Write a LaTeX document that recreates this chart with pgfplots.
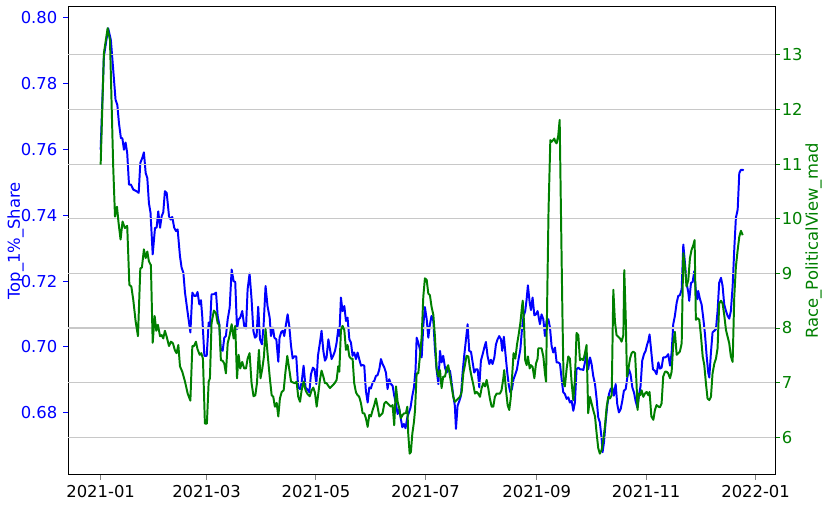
\documentclass[border=0pt]{standalone}
\usepackage{fontspec}
\setmainfont{DejaVu Sans}
\usepackage{pgfplots}
\pgfplotsset{compat=1.18}
\usepackage{pgfplotstable}
\definecolor{mplblue}{RGB}{0,0,255}
\definecolor{mplgreen}{RGB}{0,128,0}
\definecolor{gridgray}{RGB}{200,200,200}

\pgfplotstableread{
d v
0.0 0.7599
1.8 0.7882
4.2 0.7968
5.7 0.7932
7.0 0.7842
8.3 0.7751
9.3 0.7735
10.2 0.7680
11.3 0.7634
12.1 0.7634
13.0 0.7599
13.9 0.7621
14.8 0.7589
15.8 0.7493
16.9 0.7493
18.2 0.7478
20.0 0.7473
21.2 0.7468
22.1 0.7559
23.2 0.7574
24.1 0.7591
25.1 0.7528
26.0 0.7513
26.9 0.7437
27.8 0.7407
29.0 0.7281
30.3 0.7362
31.2 0.7362
32.1 0.7412
33.1 0.7362
34.0 0.7397
34.9 0.7409
35.8 0.7473
36.8 0.7468
38.1 0.7397
39.0 0.7387
39.9 0.7395
41.0 0.7362
42.0 0.7352
42.9 0.7357
44.2 0.7276
45.1 0.7241
46.1 0.7225
47.0 0.7165
48.5 0.7104
50.0 0.7044
51.1 0.7165
52.2 0.7155
53.1 0.7155
54.0 0.7167
55.0 0.7129
55.9 0.7142
56.6 0.7094
57.8 0.6973
59.1 0.6973
60.2 0.7074
60.9 0.7059
61.8 0.7160
63.1 0.7160
64.3 0.7165
65.2 0.7094
66.1 0.7069
67.0 0.6991
68.0 0.6988
68.9 0.7028
69.8 0.7033
70.8 0.7084
71.9 0.7119
73.0 0.7235
74.1 0.7200
75.0 0.7197
76.0 0.7054
76.9 0.7084
77.8 0.7089
78.9 0.7109
80.0 0.7064
81.0 0.7056
81.9 0.7175
83.0 0.7223
84.1 0.7145
85.1 0.7049
86.0 0.7028
86.9 0.7033
87.8 0.7122
88.8 0.7023
89.9 0.7008
90.8 0.7064
91.9 0.7185
93.0 0.7124
94.2 0.7089
94.9 0.7033
96.0 0.7059
96.8 0.7028
97.9 0.7023
99.0 0.6955
99.7 0.7028
100.7 0.7046
101.6 0.7049
102.3 0.7033
103.3 0.7069
104.2 0.7099
105.1 0.7064
106.1 0.7003
107.0 0.6965
107.9 0.6971
109.0 0.6971
110.1 0.6877
111.1 0.6872
112.0 0.6892
113.1 0.6943
114.2 0.6877
115.3 0.6870
116.3 0.6862
117.2 0.6917
118.3 0.6937
119.2 0.6932
120.2 0.6887
121.1 0.6973
122.2 0.7013
123.1 0.7049
124.1 0.6988
125.0 0.6958
125.9 0.6968
126.9 0.7023
127.8 0.6993
128.7 0.6963
129.6 0.6973
130.6 0.6988
131.5 0.7013
132.4 0.7054
133.0 0.7033
133.9 0.7150
134.8 0.7109
135.8 0.7124
136.7 0.7079
137.6 0.7089
138.6 0.7023
139.5 0.7013
140.4 0.6973
141.3 0.6983
142.3 0.6963
143.2 0.6983
144.1 0.6963
145.1 0.6943
146.0 0.6945
146.9 0.6943
147.8 0.6867
148.8 0.6831
149.7 0.6877
150.6 0.6874
151.6 0.6892
152.5 0.6897
153.4 0.6912
154.3 0.6914
155.3 0.6932
156.2 0.6963
157.1 0.6948
158.1 0.6937
159.0 0.6922
159.9 0.6872
160.8 0.6902
161.8 0.6887
162.7 0.6882
163.6 0.6852
164.6 0.6826
165.5 0.6796
166.4 0.6811
167.3 0.6781
168.1 0.6756
169.0 0.6766
169.9 0.6753
170.9 0.6786
171.8 0.6801
172.7 0.6816
173.7 0.6852
174.6 0.6877
175.5 0.6932
176.1 0.7028
177.0 0.7013
177.9 0.6993
178.9 0.6968
179.8 0.7064
180.7 0.7121
181.7 0.7084
182.6 0.7028
183.5 0.7069
184.4 0.7094
185.4 0.7079
186.3 0.6993
187.2 0.6932
188.2 0.6887
189.1 0.6988
190.0 0.6953
190.9 0.6973
191.9 0.6937
192.8 0.6922
193.7 0.6932
194.7 0.6927
195.6 0.6892
196.5 0.6852
197.4 0.6821
198.0 0.6751
198.9 0.6821
199.9 0.6836
200.8 0.6852
201.7 0.6922
202.6 0.6973
203.6 0.7023
204.5 0.7069
205.4 0.6988
206.4 0.6985
207.3 0.6953
208.2 0.6922
209.1 0.6932
210.1 0.6932
211.0 0.6877
211.9 0.6958
212.9 0.6978
213.8 0.6998
214.7 0.7015
215.6 0.6973
216.6 0.6948
217.5 0.6961
218.4 0.6948
219.4 0.6968
220.3 0.7008
221.2 0.7023
222.1 0.7033
223.1 0.7023
223.8 0.6988
224.7 0.7031
225.7 0.6973
226.6 0.6922
227.5 0.6882
228.3 0.6862
229.2 0.6872
230.1 0.6902
231.1 0.6917
232.0 0.6932
232.9 0.6963
233.9 0.6993
234.8 0.7054
235.7 0.7094
236.6 0.7109
237.4 0.7145
238.1 0.7187
239.1 0.7134
239.8 0.7112
240.7 0.7150
241.7 0.7096
242.6 0.7099
243.5 0.7109
244.8 0.7069
245.7 0.7099
246.7 0.7084
247.6 0.7033
248.5 0.7079
249.5 0.7084
250.4 0.7059
251.3 0.7003
252.2 0.6983
253.2 0.6998
254.1 0.6953
255.0 0.6953
256.0 0.6948
256.9 0.6902
257.8 0.6862
258.7 0.6857
259.7 0.6842
260.6 0.6847
261.5 0.6831
262.5 0.6836
263.4 0.6806
264.3 0.6831
265.2 0.6932
266.2 0.6937
267.1 0.6932
268.0 0.6932
269.0 0.6930
269.9 0.6953
270.8 0.6978
271.7 0.6932
272.7 0.6968
273.6 0.6948
274.5 0.6912
275.5 0.6887
276.4 0.6842
277.3 0.6786
278.2 0.6771
279.2 0.6720
279.7 0.6680
280.5 0.6710
281.4 0.6771
282.3 0.6821
283.3 0.6857
284.2 0.6872
285.1 0.6877
286.0 0.6852
287.0 0.6887
287.9 0.6826
288.8 0.6801
289.8 0.6811
290.7 0.6836
291.6 0.6867
292.6 0.6872
293.5 0.6907
294.4 0.6932
295.3 0.6917
296.3 0.6877
297.2 0.6862
298.1 0.6836
299.1 0.6816
300.0 0.6852
300.9 0.6882
301.8 0.6958
302.8 0.6978
303.7 0.6988
304.6 0.7008
305.2 0.7018
305.9 0.7038
306.9 0.6983
307.8 0.6932
308.9 0.6927
309.8 0.6917
310.8 0.6953
311.7 0.6934
312.6 0.6937
313.5 0.6968
314.5 0.6968
315.4 0.6971
316.3 0.6978
317.3 0.6943
318.2 0.6983
319.1 0.7069
320.0 0.7094
321.0 0.7134
321.9 0.7155
322.8 0.7157
323.8 0.7175
324.7 0.7311
325.6 0.7256
326.5 0.7195
327.5 0.7165
328.0 0.7140
329.0 0.7195
329.9 0.7197
330.8 0.7230
331.6 0.7175
332.5 0.7145
333.0 0.7170
334.0 0.7145
334.9 0.7129
335.8 0.7089
336.8 0.7038
337.7 0.6973
338.6 0.6922
339.2 0.6907
340.1 0.6983
341.0 0.7044
342.0 0.7049
342.9 0.7054
343.8 0.7109
344.7 0.7195
345.7 0.7210
346.6 0.7185
347.5 0.7129
348.5 0.7109
349.4 0.7094
350.3 0.7086
351.2 0.7109
352.2 0.7185
353.1 0.7296
354.0 0.7392
355.0 0.7417
355.9 0.7528
356.8 0.7538
357.8 0.7538
358.3 0.7536
}\topshare

\pgfplotstableread{
d g
0.0 10.99
1.8 13.03
3.9 13.49
5.2 13.27
6.1 12.11
7.0 10.95
8.0 10.04
9.1 10.22
10.0 9.92
11.1 9.62
12.2 9.95
13.5 9.83
14.8 9.87
16.0 8.79
17.1 8.76
18.2 8.51
19.5 8.12
20.8 7.85
22.1 9.09
23.0 9.11
24.1 9.44
25.1 9.28
26.0 9.40
26.9 9.22
28.0 9.15
29.0 7.73
30.1 8.22
31.0 7.95
31.9 8.06
33.1 7.85
34.0 7.87
34.9 7.81
35.8 7.95
36.8 7.84
38.1 7.67
39.2 7.75
40.3 7.72
41.4 7.59
42.3 7.54
43.3 7.69
44.2 7.30
45.5 7.20
47.0 7.02
48.5 6.80
50.0 6.67
51.1 7.67
52.0 7.67
53.1 7.75
54.0 7.61
55.2 7.51
56.1 7.54
57.0 7.44
58.1 6.25
59.2 6.25
60.2 7.02
60.9 7.08
61.8 8.09
63.1 8.32
64.3 8.27
65.2 8.09
66.1 8.06
67.0 7.41
68.0 7.40
68.9 7.35
69.8 7.17
70.8 7.72
71.9 7.87
73.0 8.07
74.1 7.81
75.0 8.04
76.0 7.08
76.9 7.51
77.8 7.26
78.9 7.38
80.0 7.26
81.0 7.26
81.9 7.44
83.0 7.54
84.1 6.99
85.2 6.75
86.2 6.77
87.1 6.99
88.2 7.60
89.1 7.08
90.1 7.26
91.0 7.48
91.9 7.98
93.0 7.54
94.2 7.11
95.3 6.77
96.2 6.74
97.1 6.56
98.1 6.63
99.0 6.38
99.9 6.71
100.9 6.83
102.0 6.86
102.9 7.17
104.0 7.49
104.9 7.29
106.1 7.02
107.4 7.00
108.3 6.99
109.2 7.02
110.1 6.74
111.1 6.65
112.0 6.86
113.1 7.02
114.2 6.86
115.3 6.79
116.5 6.75
117.6 6.86
118.5 6.91
119.4 6.82
120.4 6.56
121.3 6.80
122.2 7.05
123.1 7.22
124.1 7.11
125.0 6.99
125.9 6.99
126.9 6.94
127.8 6.90
128.7 6.93
129.6 6.96
130.6 7.00
131.5 7.05
132.4 7.30
133.0 7.20
133.9 7.96
134.8 8.04
135.8 7.96
136.7 7.60
137.6 7.69
138.6 7.48
139.5 7.44
140.4 7.44
141.3 6.99
142.3 6.82
143.2 6.77
144.1 6.74
145.1 6.62
146.0 6.44
146.9 6.44
147.8 6.35
148.8 6.19
149.7 6.41
150.6 6.38
151.6 6.50
152.5 6.59
153.4 6.71
154.3 6.56
155.3 6.38
156.2 6.41
157.1 6.44
158.1 6.62
159.0 6.65
159.9 6.62
160.8 6.59
161.8 6.56
162.7 6.59
163.6 6.22
164.6 6.93
165.5 6.65
166.4 6.53
167.3 6.35
168.3 6.41
169.2 6.44
170.1 6.44
170.9 6.56
171.4 6.07
172.2 5.70
172.9 5.73
173.7 6.07
174.6 6.28
175.2 6.50
176.1 7.17
177.0 7.17
177.9 7.48
178.9 7.84
179.8 8.57
180.7 8.91
181.7 8.88
182.6 8.63
183.5 8.60
184.4 8.39
185.4 8.24
186.3 7.84
187.2 7.26
188.2 7.11
189.1 7.23
190.0 6.90
190.9 7.11
191.9 7.11
192.8 7.26
193.7 7.32
194.7 7.11
195.6 6.93
196.5 6.74
197.4 6.65
198.4 6.68
199.3 6.71
200.2 6.74
201.2 6.83
202.1 7.17
203.0 7.32
203.9 7.49
204.9 7.48
205.8 7.26
206.7 7.11
207.7 6.96
208.6 6.80
209.5 6.83
210.4 6.80
211.4 6.74
212.3 6.90
213.2 6.99
214.2 6.93
215.1 7.05
216.0 6.90
216.9 6.71
217.9 6.56
218.8 6.56
219.7 6.74
220.7 6.80
221.6 6.80
222.5 6.80
223.4 6.86
224.4 7.08
224.9 7.23
225.9 6.86
226.8 6.59
227.7 6.50
228.5 6.71
229.4 7.17
230.1 7.54
231.1 7.44
232.0 7.69
232.9 7.87
233.9 8.09
234.8 8.39
235.2 8.50
235.9 8.12
236.6 7.41
237.4 7.32
238.1 7.48
239.1 7.26
239.8 7.32
240.7 7.29
241.7 7.08
242.6 7.35
243.5 7.44
243.9 7.63
244.8 7.63
245.7 7.63
246.7 7.48
247.6 7.17
248.2 7.02
248.9 8.63
249.6 10.16
250.6 11.44
251.3 11.41
252.2 11.44
252.8 11.47
253.4 11.41
254.1 11.38
255.0 11.52
255.8 11.81
256.5 10.16
257.3 8.33
258.0 6.99
258.7 6.93
259.7 7.26
260.6 7.48
261.5 7.44
262.5 6.99
263.4 6.68
264.3 7.05
265.2 7.91
266.2 7.87
267.1 7.41
268.0 7.44
269.0 7.41
269.9 7.54
270.8 7.69
271.7 6.44
272.7 6.74
273.6 6.62
274.5 6.50
275.5 6.38
276.4 6.07
277.3 5.80
278.2 5.70
279.2 5.77
280.1 5.95
281.0 6.19
282.0 6.56
282.9 6.74
283.8 6.71
284.8 6.77
285.7 8.70
286.6 8.12
287.5 7.87
288.5 7.84
289.4 7.81
290.3 7.75
291.3 7.87
291.8 9.06
292.6 8.21
293.3 7.11
294.0 7.23
295.0 7.44
295.9 7.54
296.8 7.57
297.8 7.54
298.7 6.93
299.2 6.50
300.0 6.80
300.7 6.77
301.5 6.86
302.4 6.74
303.3 6.80
304.3 6.83
305.2 6.77
305.9 6.83
306.9 6.38
308.0 6.32
308.9 6.50
309.8 6.59
310.8 6.56
311.7 6.55
312.6 6.62
313.5 7.11
314.5 7.20
315.4 7.20
316.3 7.17
317.3 7.08
318.2 7.20
319.1 7.72
320.0 7.93
321.0 7.51
321.9 7.54
322.8 7.57
323.8 7.72
324.7 9.37
325.6 9.12
326.5 8.76
327.5 8.88
328.4 9.28
329.3 9.43
330.3 9.52
331.0 9.61
331.7 8.15
332.7 8.18
333.6 8.15
334.5 7.87
335.5 7.48
336.4 7.32
337.3 6.99
338.2 6.71
339.2 6.68
340.1 6.74
341.0 7.17
342.0 7.35
342.9 7.44
343.8 7.63
344.7 8.45
345.7 8.50
346.6 8.45
347.5 8.24
348.5 7.96
349.4 7.84
350.3 7.72
351.2 7.48
352.2 7.38
353.1 8.57
354.0 9.12
355.0 9.43
355.9 9.67
356.8 9.78
357.8 9.70
}\racemad

\begin{document}
\begin{tikzpicture}
\pgfplotsset{
  common/.style={
    scale only axis,
    width=431.1pt, height=285.4pt,
    xmin=-18.2, xmax=375.8,
    /pgf/number format/assume math mode=true,
    tick align=outside,
    major tick length=3pt,
    ticklabel style={font=\fontsize{10}{12}\selectfont},
    label style={font=\fontsize{10}{12}\selectfont},
    axis line style={line width=0.6pt},
    every tick/.append style={line width=0.6pt},
  }
}
\begin{axis}[common, name=main,
  ymin=0.6611, ymax=0.8033,
  xtick={0,59,120,181,243,304,365},
  xticklabels={2021-01,2021-03,2021-05,2021-07,2021-09,2021-11,2022-01},
  xtick pos=left, ytick pos=left,
  ytick={0.68,0.70,0.72,0.74,0.76,0.78,0.80},
  yticklabel style={mplblue, /pgf/number format/.cd, fixed, fixed zerofill, precision=2},
  ytick style={mplblue},
  ylabel={Top\_1\%\_Share},
  ylabel style={mplblue, at={(axis description cs:0,0.5)}, anchor=center, yshift=32pt},
]
\addplot[mplblue, line width=1.2pt, line join=round] table[x=d, y=v] {\topshare};
\end{axis}
\begin{axis}[common,
  axis x line=none, axis y line*=right,
  ymin=5.31, ymax=13.879,
  ytick={6,7,8,9,10,11,12,13},
  ymajorgrids,
  grid style={gridgray, line width=0.7pt},
  yticklabel style={mplgreen, xshift=-2.4pt},
  ytick style={mplgreen},
  ylabel={Race\_PoliticalView\_mad},
  ylabel style={mplgreen, at={(axis description cs:1,0.5)}, anchor=center, yshift=-23.5pt},
]
\addplot[mplgreen, line width=1.2pt, line join=round] table[x=d, y=g] {\racemad};
\end{axis}
\pgfresetboundingbox
\path (main.south west) ++(-41.46pt,-18.29pt) rectangle ++(506.1pt,307.9pt);
\end{tikzpicture}
\end{document}
